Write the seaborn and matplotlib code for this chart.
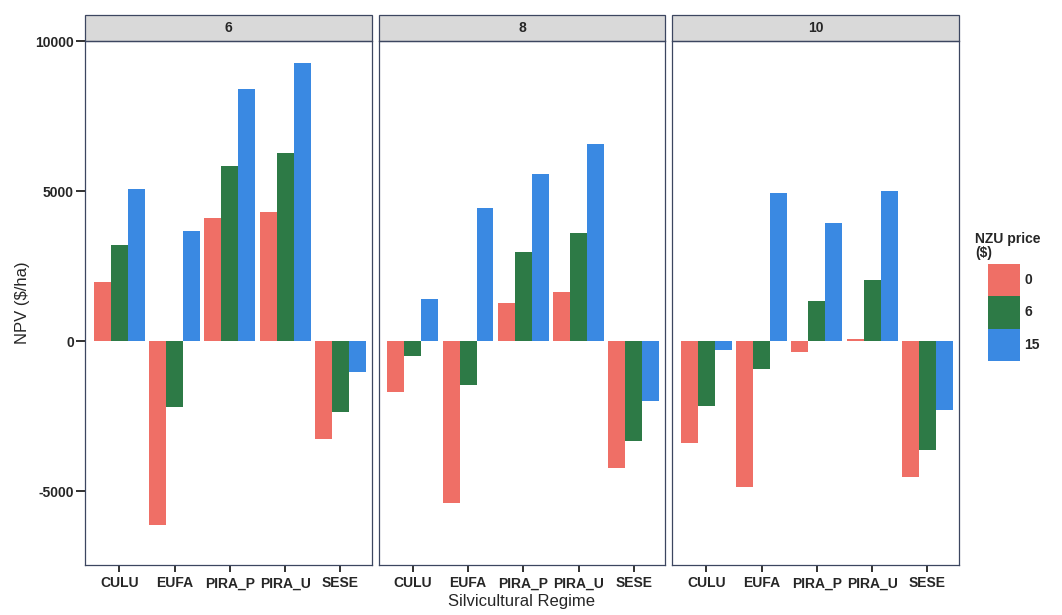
import numpy as np
import pandas as pd
import matplotlib
matplotlib.use("Agg")
import matplotlib.pyplot as plt
import matplotlib.patches as mpatches
import seaborn as sns

sns.set_style("white")
plt.rcParams['font.family'] = ['Liberation Sans', 'DejaVu Sans']
plt.rcParams['axes.unicode_minus'] = False

# data
regimes = ["CULU", "EUFA", "PIRA_P", "PIRA_U", "SESE"]
prices = ["0", "6", "15"]
panels = ["6", "8", "10"]

npv_6_p0 = [1990, -6140, 4110, 4310, -3250]
npv_6_p6 = [3220, -2200, 5850, 6280, -2370]
npv_6_p15 = [5070, 3690, 8420, 9270, -1040]
npv_8_p0 = [-1700, -5400, 1280, 1640, -4220]
npv_8_p6 = [-480, -1450, 2980, 3620, -3320]
npv_8_p15 = [1400, 4430, 5580, 6590, -2000]
npv_10_p0 = [-3400, -4860, -370, 80, -4520]
npv_10_p6 = [-2160, -930, 1350, 2060, -3630]
npv_10_p15 = [-290, 4940, 3950, 5020, -2300]

values = {
    "6": [npv_6_p0, npv_6_p6, npv_6_p15],
    "8": [npv_8_p0, npv_8_p6, npv_8_p15],
    "10": [npv_10_p0, npv_10_p6, npv_10_p15],
}

rows = []
for p in panels:
    for price, vals in zip(prices, values[p]):
        for r, v in zip(regimes, vals):
            rows.append({"panel": p, "regime": r, "price": price, "npv": v})
df = pd.DataFrame(rows)

colors = ["#EF6F66", "#2D7A46", "#3A89E2"]
frame_col = "#3c4660"

fig, axes = plt.subplots(1, 3, figsize=(10.62, 6.15), dpi=100, sharey=True)
fig.subplots_adjust(left=0.080, right=0.903, bottom=0.081, top=0.934, wspace=0.023)

for ax, p in zip(axes, panels):
    sns.barplot(data=df[df.panel == p], x="regime", y="npv", hue="price",
                hue_order=prices, order=regimes, palette=colors, saturation=1,
                width=0.92, errorbar=None, linewidth=0, legend=False, ax=ax)
    ax.set_xlim(-0.62, 4.57)
    ax.set_ylim(-7470, 10030)
    ax.set_xlabel("")
    ax.set_ylabel("")
    for s in ax.spines.values():
        s.set_color(frame_col)
        s.set_linewidth(0.9)
    ax.tick_params(axis="x", bottom=True, length=5, width=1.3, color="#222222",
                   pad=3, labelsize=10)
    ax.tick_params(axis="y", left=True, length=6.5, width=1.3, color="#222222",
                   pad=1.5, labelsize=10)
    for lab in ax.get_xticklabels() + ax.get_yticklabels():
        lab.set_fontweight("bold")
    # strip on top
    ax.add_patch(mpatches.Rectangle((0, 1), 1, 0.049, transform=ax.transAxes,
                                    facecolor="#d9d9d9", edgecolor=frame_col,
                                    linewidth=0.9, clip_on=False))
    ax.text(0.5, 1.0245, p, transform=ax.transAxes, ha="center", va="center",
            fontsize=10, fontweight="bold")

axes[0].set_yticks([-5000, 0, 5000, 10000])
for lab in axes[0].get_yticklabels():
    lab.set_fontweight("bold")
axes[0].set_ylabel("NPV ($/ha)", fontsize=12, labelpad=4)
for ax in axes[1:]:
    ax.tick_params(axis="y", left=False, labelleft=False)
axes[1].set_xlabel("Silvicultural Regime", fontsize=12, labelpad=3)

# legend
fig.text(975 / 1062, 1 - 232 / 615, "NZU price\n($)", fontsize=10, fontweight="bold",
         ha="left", va="top", linespacing=1.0)
handles = [mpatches.Patch(facecolor=c, edgecolor="none", label=l) for c, l in zip(colors, prices)]
leg = fig.legend(handles=handles, loc="upper left", bbox_to_anchor=(988 / 1062, 1 - 264 / 615),
                 frameon=False, borderpad=0, borderaxespad=0, labelspacing=0,
                 handlelength=2.3, handleheight=3.2, handletextpad=0.3,
                 prop={"size": 10, "weight": "bold"})

plt.savefig("out.png", dpi=100)
